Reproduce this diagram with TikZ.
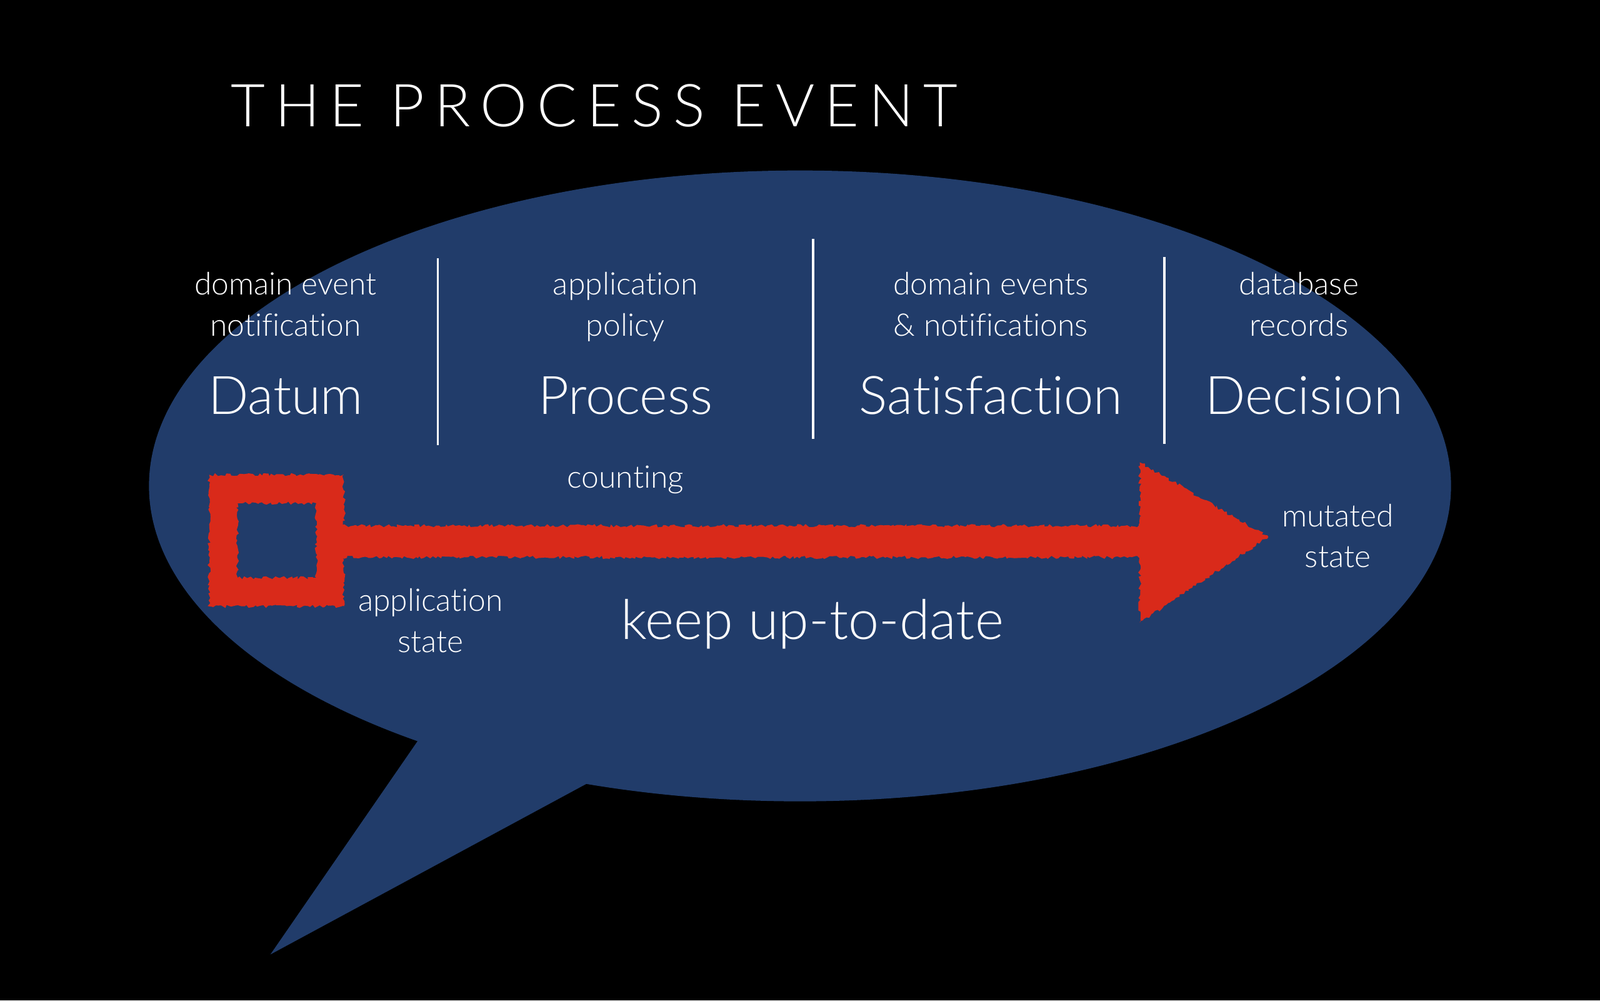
\documentclass[tikz,border=0pt]{standalone}
\usepackage{fontspec}
\setmainfont[Ligatures=NoCommon]{Lato Light}
\newfontfamily\titlefont[LetterSpace=17,Ligatures=NoCommon]{Lato Light}
\usetikzlibrary{decorations.pathmorphing}
\definecolor{bubble}{HTML}{213C6A}
\definecolor{chalk}{HTML}{D92A1A}
\tikzset{
  small/.style={text=white, font=\fontsize{30.5}{36}\selectfont, inner sep=0pt, anchor=base},
  big/.style={text=white, font=\fontsize{52}{60}\selectfont, inner sep=0pt, anchor=base},
  sep/.style={draw=white, line width=2.2pt},
  rough/.style={fill=chalk, decorate, decoration={random steps, segment length=2.5pt, amplitude=1.6pt}},
}
\begin{document}
\begin{tikzpicture}[x=1pt,y=-1pt]
\useasboundingbox[fill=black] (0,0) rectangle (1568,980);
% bubble
\fill[bubble] (784,476) ellipse [x radius=638, y radius=309];
\fill[bubble] (412,722) -- (265,935) -- (580,765) -- cycle;
% title
\node[text=white, font=\titlefont\fontsize{58}{64}\selectfont, inner sep=0pt, anchor=base west] (title) at (226,124) {THE PROCESS EVENT};
% separators
\coordinate (s1t) at (429,253); \coordinate (s1b) at (429,436);
\coordinate (s2t) at (797,234); \coordinate (s2b) at (797,430);
\coordinate (s3t) at (1141,252); \coordinate (s3b) at (1141,435);
\draw[sep] (s1t) -- (s1b);
\draw[sep] (s2t) -- (s2b);
\draw[sep] (s3t) -- (s3b);
% columns
\node[small] (d1) at (280,289) {domain event};
\node[small] (d2) at (280,329) {notification};
\node[big] (datum) at (280,406) {Datum};
\node[small] (p1) at (613,289) {application};
\node[small] (p2) at (613,329) {policy};
\node[big] (process) at (613,406) {Process};
\node[small] (s1) at (971,289) {domain events};
\node[small] (s2) at (971,329) {\& notifications};
\node[big] (satisfaction) at (971,406) {Satisfaction};
\node[small] (c1) at (1273,289) {database};
\node[small] (c2) at (1273,329) {records};
\node[big] (decision) at (1278,406) {Decision};
% arrow
\path[rough, even odd rule] (205,465) rectangle (337,594) (233,493) rectangle (310,566);
\path[rough] (334,515) rectangle (1125,546);
\path[rough] (1117,453) -- (1243,526) -- (1117,610) -- cycle;
% labels
\node[small] (counting) at (613,478) {counting};
\node[small] (as1) at (422,599) {application};
\node[small] (as2) at (422,639) {state};
\node[big, font=\fontsize{54}{60}\selectfont] (keep) at (796,626) {keep up-to-date};
\node[small] (m1) at (1311,516) {mutated};
\node[small] (m2) at (1311,556) {state};
\end{tikzpicture}
\end{document}
